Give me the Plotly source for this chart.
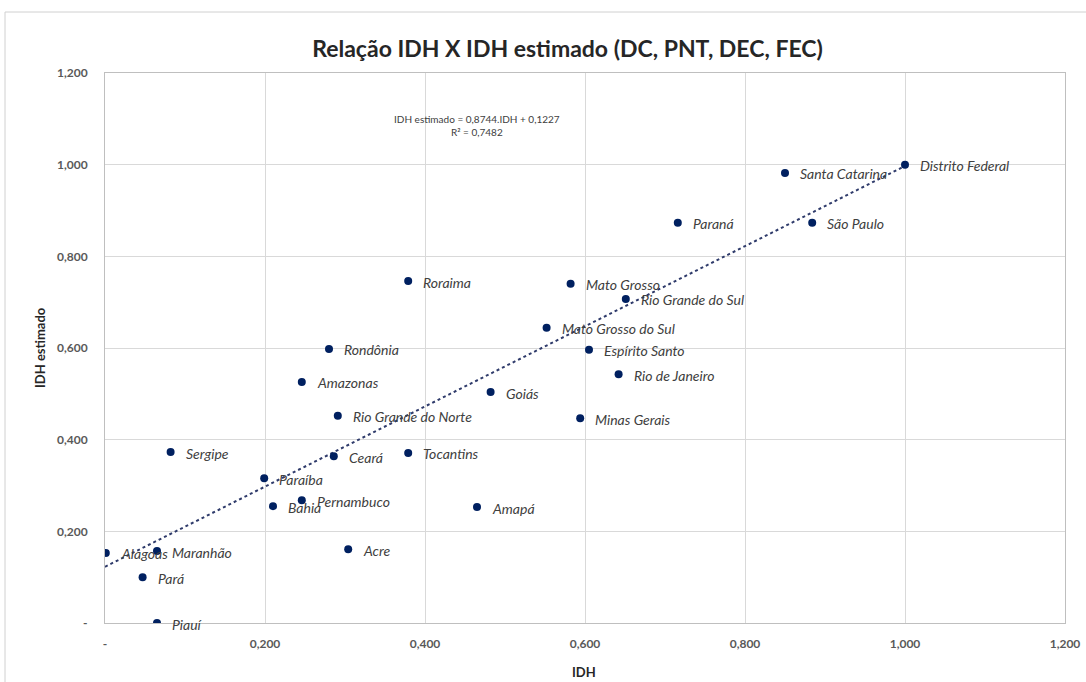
import plotly.graph_objects as go

# IDH (x) vs IDH estimado (y) per unidade federativa
estados = [
    "Distrito Federal", "Santa Catarina", "Paraná", "São Paulo", "Mato Grosso",
    "Rio Grande do Sul", "Mato Grosso do Sul", "Espírito Santo", "Rio de Janeiro",
    "Goiás", "Minas Gerais", "Roraima", "Rondônia", "Amazonas",
    "Rio Grande do Norte", "Ceará", "Tocantins", "Paraíba", "Pernambuco",
    "Bahia", "Amapá", "Acre", "Sergipe", "Alagoas", "Maranhão", "Pará", "Piauí",
]
idh = [
    1.000, 0.850, 0.716, 0.884, 0.582,
    0.651, 0.552, 0.605, 0.642,
    0.482, 0.594, 0.379, 0.280, 0.246,
    0.291, 0.286, 0.379, 0.199, 0.246,
    0.210, 0.465, 0.304, 0.082, 0.001, 0.065, 0.047, 0.065,
]
idh_estimado = [
    1.000, 0.982, 0.873, 0.873, 0.740,
    0.707, 0.644, 0.596, 0.543,
    0.504, 0.447, 0.746, 0.598, 0.526,
    0.452, 0.364, 0.371, 0.316, 0.268,
    0.255, 0.253, 0.161, 0.373, 0.153, 0.157, 0.100, 0.000,
]

# Linear trend: IDH estimado = 0,8744.IDH + 0,1227
slope = 0.8744
intercept = 0.1227
r2 = 0.7482
trend_x = [0.0, 1.0]
trend_y = [slope * v + intercept for v in trend_x]

tick_vals = [0, 0.2, 0.4, 0.6, 0.8, 1.0, 1.2]
tick_text = ["-", "0,200", "0,400", "0,600", "0,800", "1,000", "1,200"]

FONT = "Lato, 'Open Sans', sans-serif"
MARKER = "#002060"
TEXT = "#404040"
GRID = "#d9d9d9"

# plot area in pixels
L, R, T, B = 105, 21, 73, 59
W, H = 1086, 682
PW, PH = W - L - R, H - T - B


def fmt(v):
    return f"{v:.4f}".replace(".", ",")


fig = go.Figure()

fig.add_trace(go.Scatter(
    x=trend_x, y=trend_y, mode="lines",
    line=dict(color="#2f3b6b", width=2, dash="dot"),
    hoverinfo="skip", showlegend=False,
))

fig.add_trace(go.Scatter(
    x=idh, y=idh_estimado, mode="markers",
    marker=dict(color=MARKER, size=8),
    text=estados, showlegend=False,
))

for nome, xv, yv in zip(estados, idh, idh_estimado):
    fig.add_annotation(
        x=xv, y=yv, text=nome, showarrow=False,
        xanchor="left", yanchor="middle", xshift=13, yshift=-1,
        font=dict(family=FONT, size=14, color=TEXT, style="italic"),
    )

fig.add_annotation(
    x=(477 - L) / PW, y=(H - B - 125) / PH, xref="paper", yref="paper",
    showarrow=False,
    text=f"IDH estimado = {fmt(slope)}.IDH + {fmt(intercept)}<br>R² = {fmt(r2)}",
    align="center", yanchor="middle",
    font=dict(family=FONT, size=10, color=TEXT),
)

# axis titles
fig.add_annotation(
    x=(584 - L) / PW, y=-(672 - (H - B)) / PH, xref="paper", yref="paper",
    text="IDH", showarrow=False, xanchor="center", yanchor="middle",
    font=dict(family=FONT, size=13, color="#262626", weight="bold"),
)
fig.add_annotation(
    x=-(L - 40) / PW, y=(H - B - 348) / PH, xref="paper", yref="paper",
    text="IDH estimado", showarrow=False, textangle=-90,
    xanchor="center", yanchor="middle",
    font=dict(family=FONT, size=13, color="#262626", weight="bold"),
)

# outer chart frame
fig.add_shape(
    type="rect", xref="paper", yref="paper",
    x0=-(L - 5) / PW, x1=1.2, y0=-0.3, y1=(H - B - 12) / PH,
    line=dict(color="#d0d0d0", width=1), fillcolor="rgba(0,0,0,0)", layer="below",
)

axis_common = dict(
    range=[0, 1.2], tickvals=tick_vals, ticktext=tick_text,
    showgrid=True, gridcolor=GRID, gridwidth=1,
    showline=True, linecolor="#bfbfbf", linewidth=1, mirror=True,
    zeroline=False, ticks="", automargin=False,
    tickfont=dict(family=FONT, size=12, color="#595959", weight="bold"),
)

fig.update_layout(
    width=W, height=H,
    margin=dict(l=L, r=R, t=T, b=B, autoexpand=False),
    paper_bgcolor="white", plot_bgcolor="white",
    title=dict(
        text="Relação IDH X IDH estimado (DC, PNT, DEC, FEC)",
        x=(313 + 822) / 2 / W, xanchor="center", y=1 - 49 / H, yanchor="middle",
        font=dict(family=FONT, size=23, color="#262626", weight="bold"),
    ),
    xaxis=dict(**axis_common, ticklabelstandoff=10),
    yaxis=dict(**axis_common, ticklabelstandoff=14),
)

fig.write_html("out.html")
